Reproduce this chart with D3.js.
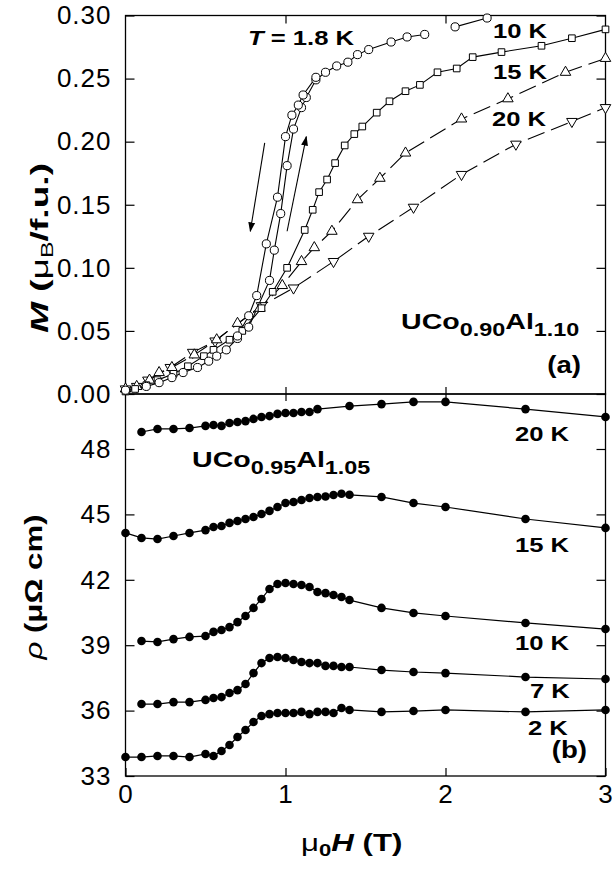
<!DOCTYPE html>
<html>
<head>
<meta charset="utf-8">
<script src="https://cdn.jsdelivr.net/npm/d3@7"></script>
<style>
  body { margin: 0; background: #fff; }
  svg { font-family: "Liberation Sans", Arial, Helvetica, sans-serif; }
</style>
</head>
<body>
<svg id="chart" width="616" height="869"></svg>
<script>
'use strict'

// ---- panel (a): magnetization M (muB/f.u.) vs field (T), UCo0.90Al1.10 ----
const mag18Up = [[0, 0.003], [0.13, 0.006], [0.21, 0.009], [0.29, 0.013], [0.36, 0.017], [0.45, 0.021],
  [0.52, 0.026], [0.57, 0.030], [0.63, 0.035], [0.70, 0.044], [0.77, 0.053], [0.90, 0.090], [0.93, 0.114],
  [0.97, 0.143], [1.01, 0.181], [1.05, 0.210], [1.10, 0.227], [1.13, 0.235], [1.19, 0.249], [1.25, 0.255],
  [1.32, 0.260], [1.39, 0.263], [1.45, 0.269], [1.52, 0.273], [1.66, 0.279], [1.76, 0.283], [1.87, 0.285]]
const mag18Down = [[1.19, 0.251], [1.11, 0.237], [1.08, 0.229], [1.04, 0.221], [1.00, 0.204], [0.95, 0.156],
  [0.88, 0.119], [0.82, 0.078], [0.77, 0.062], [0.70, 0.046]]
const mag18High = [[2.06, 0.291], [2.26, 0.298]]
const mag10 = [[0, 0.002], [0.06, 0.004], [0.13, 0.007], [0.20, 0.011], [0.30, 0.016], [0.39, 0.022],
  [0.49, 0.030], [0.55, 0.035], [0.65, 0.043], [0.73, 0.050], [0.85, 0.068], [0.92, 0.081], [1.01, 0.100],
  [1.12, 0.130], [1.17, 0.146], [1.21, 0.160], [1.26, 0.170], [1.31, 0.183], [1.37, 0.197], [1.43, 0.206],
  [1.48, 0.212], [1.57, 0.223], [1.65, 0.232], [1.75, 0.240], [1.84, 0.245], [1.95, 0.255], [2.07, 0.258],
  [2.17, 0.267], [2.35, 0.271], [2.60, 0.276], [2.79, 0.282], [3.0, 0.289]]
const mag15 = [[0, 0.004], [0.07, 0.006], [0.15, 0.011], [0.21, 0.017], [0.29, 0.021], [0.43, 0.031],
  [0.57, 0.043], [0.70, 0.056], [0.84, 0.068], [0.98, 0.086], [1.10, 0.105], [1.18, 0.116], [1.29, 0.129],
  [1.45, 0.154], [1.59, 0.171], [1.75, 0.191], [2.10, 0.218], [2.39, 0.234], [2.75, 0.255], [3.0, 0.266]]
const mag20 = [[0, 0.004], [0.07, 0.006], [0.14, 0.011], [0.28, 0.021], [0.42, 0.033], [0.56, 0.042],
  [0.85, 0.070], [1.05, 0.084], [1.30, 0.105], [1.52, 0.125], [1.80, 0.148], [2.10, 0.174], [2.44, 0.198],
  [2.79, 0.216], [3.0, 0.227]]
const magTicks = [0, 0.05, 0.10, 0.15, 0.20, 0.25, 0.30]
// sweep-direction arrows [from, to] in (T, M)
const sweepArrows = [[[0.87, 0.199], [0.78, 0.129]], [[1.01, 0.129], [1.13, 0.204]]]

// ---- panel (b): resistivity rho (muOhm cm) vs field (T), UCo0.95Al1.05 ----
const rho20 = [[0.1, 48.78], [0.2, 48.92], [0.3, 48.92], [0.4, 48.96], [0.5, 49.06], [0.55, 49.10], [0.6, 49.06],
  [0.65, 49.19], [0.7, 49.24], [0.75, 49.28], [0.8, 49.38], [0.85, 49.47], [0.9, 49.51], [0.95, 49.61],
  [1.0, 49.65], [1.05, 49.65], [1.1, 49.70], [1.15, 49.70], [1.2, 49.83], [1.4, 49.97], [1.6, 50.06],
  [1.8, 50.16], [2.0, 50.16], [2.5, 49.83], [3.0, 49.47]]
const rho15 = [[0, 44.15], [0.1, 43.92], [0.2, 43.87], [0.3, 44.01], [0.4, 44.15], [0.5, 44.28], [0.55, 44.42],
  [0.6, 44.47], [0.65, 44.61], [0.7, 44.70], [0.75, 44.79], [0.8, 44.88], [0.85, 45.02], [0.9, 45.16],
  [0.95, 45.34], [1.0, 45.52], [1.05, 45.57], [1.1, 45.66], [1.15, 45.75], [1.2, 45.80], [1.25, 45.82],
  [1.3, 45.89], [1.35, 45.95], [1.4, 45.90], [1.6, 45.80], [1.8, 45.52], [2.0, 45.34], [2.5, 44.79], [3.0, 44.38]]
const rho10 = [[0.1, 39.19], [0.2, 39.15], [0.3, 39.28], [0.4, 39.38], [0.5, 39.42], [0.55, 39.61], [0.6, 39.70],
  [0.65, 39.83], [0.7, 40.06], [0.75, 40.34], [0.8, 40.71], [0.85, 41.12], [0.9, 41.58], [0.95, 41.81],
  [1.0, 41.85], [1.05, 41.81], [1.1, 41.76], [1.15, 41.67], [1.2, 41.44], [1.25, 41.39], [1.3, 41.30],
  [1.35, 41.21], [1.4, 41.07], [1.6, 40.71], [1.8, 40.48], [2.0, 40.34], [2.5, 40.02], [3.0, 39.74]]
const rho7 = [[0.1, 36.30], [0.2, 36.30], [0.3, 36.39], [0.4, 36.39], [0.5, 36.49], [0.55, 36.58], [0.6, 36.62],
  [0.65, 36.81], [0.7, 36.94], [0.75, 37.22], [0.8, 37.72], [0.85, 38.18], [0.9, 38.41], [0.95, 38.46],
  [1.0, 38.41], [1.05, 38.32], [1.1, 38.23], [1.15, 38.18], [1.2, 38.18], [1.25, 38.05], [1.3, 38.05],
  [1.35, 38.00], [1.4, 38.00], [1.6, 37.86], [1.8, 37.77], [2.0, 37.72], [2.5, 37.54], [3.0, 37.45]]
const rho2 = [[0, 33.87], [0.1, 33.87], [0.2, 33.92], [0.3, 33.92], [0.4, 33.87], [0.5, 34.01], [0.55, 33.92],
  [0.6, 34.15], [0.65, 34.42], [0.7, 34.79], [0.75, 35.11], [0.8, 35.48], [0.85, 35.75], [0.9, 35.84],
  [0.95, 35.89], [1.0, 35.89], [1.05, 35.89], [1.1, 35.94], [1.15, 35.84], [1.2, 35.94], [1.25, 35.94],
  [1.3, 35.89], [1.35, 36.12], [1.4, 36.03], [1.6, 35.94], [1.8, 35.98], [2.0, 36.03], [2.5, 35.94], [3.0, 36.03]]
const rhoTicks = [33, 36, 39, 42, 45, 48]
const fieldTicks = [0, 1, 2, 3]

// ---- layout ----
const left = 125.5
const right = 605.5
const topA = 15.5
const mid = 394
const bottomB = 776

const svg = d3.select('#chart')

const x = d3.scaleLinear().domain([0, 3]).range([left, right])
const yM = d3.scaleLinear().domain([0, 0.30]).range([mid, topA])
const yR = d3.scaleLinear().domain([33, 33 + (bottomB - mid) / 21.8]).range([bottomB, mid])

const defs = svg.append('defs')
defs.append('marker')
  .attr('id', 'head')
  .attr('viewBox', '0 0 10 10')
  .attr('refX', 9).attr('refY', 5)
  .attr('markerWidth', 9).attr('markerHeight', 9)
  .attr('orient', 'auto')
  .append('path').attr('d', 'M0,1.5 L10,5 L0,8.5 Z').attr('fill', '#000')

// axes: inward ticks on all sides
function styleAxis (g) {
  g.select('.domain').remove()
  g.selectAll('line').attr('stroke', '#000').attr('stroke-width', 1.2)
  g.selectAll('text').attr('fill', '#000').attr('font-size', 26).attr('letter-spacing', 1)
}

svg.append('g').attr('transform', `translate(${left},0)`)
  .call(d3.axisLeft(yM).tickValues(magTicks).tickFormat(d3.format('.2f')).tickSize(-9).tickPadding(14))
  .call(styleAxis)
svg.append('g').attr('transform', `translate(${right},0)`)
  .call(d3.axisRight(yM).tickValues(magTicks).tickFormat('').tickSize(-9))
  .call(styleAxis)
svg.append('g').attr('transform', `translate(${left},0)`)
  .call(d3.axisLeft(yR).tickValues(rhoTicks).tickFormat(d3.format('d')).tickSize(-9).tickPadding(14))
  .call(styleAxis)
svg.append('g').attr('transform', `translate(${right},0)`)
  .call(d3.axisRight(yR).tickValues(rhoTicks).tickFormat('').tickSize(-9))
  .call(styleAxis)

svg.append('g').attr('transform', `translate(0,${topA})`)
  .call(d3.axisTop(x).tickValues([1, 2]).tickFormat('').tickSize(-8))
  .call(styleAxis)
svg.append('g').attr('transform', `translate(0,${mid})`)
  .call(d3.axisBottom(x).tickValues([1, 2]).tickFormat('').tickSize(-7))
  .call(styleAxis)
svg.append('g').attr('transform', `translate(0,${mid})`)
  .call(d3.axisTop(x).tickValues([1, 2]).tickFormat('').tickSize(-7))
  .call(styleAxis)
svg.append('g').attr('transform', `translate(0,${bottomB})`)
  .call(d3.axisBottom(x).tickValues(fieldTicks).tickFormat(d3.format('d')).tickSize(-8).tickPadding(9))
  .call(styleAxis)

// frames
svg.append('rect').attr('x', left).attr('y', topA).attr('width', right - left).attr('height', mid - topA)
  .attr('fill', 'none').attr('stroke', '#000').attr('stroke-width', 1.3)
svg.append('rect').attr('x', left).attr('y', mid).attr('width', right - left).attr('height', bottomB - mid)
  .attr('fill', 'none').attr('stroke', '#000').attr('stroke-width', 1.3)

// ---- panel (a) data ----
const lineM = d3.line().x(d => x(d[0])).y(d => yM(d[1]))
const pa = svg.append('g')

function drawLine (data, dash) {
  pa.append('path').datum(data).attr('d', lineM)
    .attr('fill', 'none').attr('stroke', '#000').attr('stroke-width', 1.1)
    .attr('stroke-dasharray', dash || null)
}
drawLine(mag20, '18,7')
drawLine(mag15, '18,7')
drawLine(mag10)
drawLine(mag18Up)
drawLine(mag18Down)
drawLine(mag18High)

function drawSymbols (data, type, size, rot) {
  pa.append('g').selectAll('path').data(data).join('path')
    .attr('d', d3.symbol().type(type).size(size))
    .attr('transform', d => `translate(${x(d[0])},${yM(d[1])}) rotate(${rot})`)
    .attr('fill', '#fff').attr('stroke', '#000').attr('stroke-width', 1)
}
drawSymbols(mag20, d3.symbolTriangle, 48, 180)
drawSymbols(mag15, d3.symbolTriangle, 48, 0)
drawSymbols(mag10, d3.symbolSquare, 44, 0)
drawSymbols(mag18Up.concat(mag18Down, mag18High), d3.symbolCircle, 52, 0)

pa.selectAll('.arrow').data(sweepArrows).join('line')
  .attr('class', 'arrow')
  .attr('x1', d => x(d[0][0])).attr('y1', d => yM(d[0][1]))
  .attr('x2', d => x(d[1][0])).attr('y2', d => yM(d[1][1]))
  .attr('stroke', '#000').attr('stroke-width', 1.1)
  .attr('marker-end', 'url(#head)')

// ---- panel (b) data ----
const lineR = d3.line().x(d => x(d[0])).y(d => yR(d[1]))
const pb = svg.append('g')
;[rho20, rho15, rho10, rho7, rho2].forEach(series => {
  pb.append('path').datum(series).attr('d', lineR)
    .attr('fill', 'none').attr('stroke', '#000').attr('stroke-width', 1.2)
  pb.append('g').selectAll('circle').data(series).join('circle')
    .attr('cx', d => x(d[0])).attr('cy', d => yR(d[1])).attr('r', 4.3)
    .attr('fill', '#000')
})

// ---- text ----
function richText (x0, y0, parts, opt) {
  const o = Object.assign({ size: 21, sx: 1.22, anchor: 'start', rotate: 0, subSize: 16, subShift: 6 }, opt)
  const g = svg.append('g')
    .attr('transform', `translate(${x0},${y0}) rotate(${o.rotate}) scale(${o.sx},1)`)
  const t = g.append('text').attr('font-size', o.size).attr('font-weight', 'bold')
    .attr('text-anchor', o.anchor).attr('fill', '#000')
  let cur = 0
  parts.forEach(p => {
    const target = p.sub ? o.subShift : 0
    t.append('tspan').text(p.t)
      .attr('dy', target - cur)
      .attr('font-size', p.sub ? o.subSize : null)
      .attr('font-style', p.it ? 'italic' : null)
      .attr('font-weight', p.normal ? 'normal' : null)
    cur = target
  })
  return t
}

richText(248, 45, [{ t: 'T', it: true }, { t: ' = 1.8 K' }])
richText(493, 38, [{ t: '10 K' }])
richText(493, 79, [{ t: '15 K' }])
richText(492, 126, [{ t: '20 K' }])
richText(401, 329, [{ t: 'UCo' }, { t: '0.90', sub: true }, { t: 'Al' }, { t: '1.10', sub: true }],
  { size: 22, sx: 1.3, subSize: 18, subShift: 7 })
richText(581, 373, [{ t: '(a)' }], { anchor: 'end', size: 24, sx: 1.15 })

richText(515, 441, [{ t: '20 K' }])
richText(192, 467, [{ t: 'UCo' }, { t: '0.95', sub: true }, { t: 'Al' }, { t: '1.05', sub: true }],
  { size: 22, sx: 1.3, subSize: 18, subShift: 7 })
richText(515, 552, [{ t: '15 K' }])
richText(515, 650, [{ t: '10 K' }])
richText(530, 698, [{ t: '7 K' }])
richText(528, 735, [{ t: '2 K' }])
richText(587, 758, [{ t: '(b)' }], { anchor: 'end', size: 24, sx: 1.15 })

// axis titles
richText(301, 851, [{ t: 'μ', normal: true }, { t: '0', sub: true }, { t: 'H', it: true }, { t: ' (T)' }],
  { size: 24, sx: 1.3, subSize: 17, subShift: 5 })
richText(48, 248, [{ t: 'M', it: true }, { t: ' (' }, { t: 'μ', normal: true }, { t: 'B', sub: true, normal: true }, { t: '/f.u.)' }],
  { size: 24, sx: 1.55, rotate: -90, anchor: 'middle', subSize: 16, subShift: 5 })
richText(42, 587, [{ t: 'ρ', it: true, normal: true }, { t: ' (μΩ cm)' }],
  { size: 24, sx: 1.3, rotate: -90, anchor: 'middle' })
</script>
</body>
</html>
